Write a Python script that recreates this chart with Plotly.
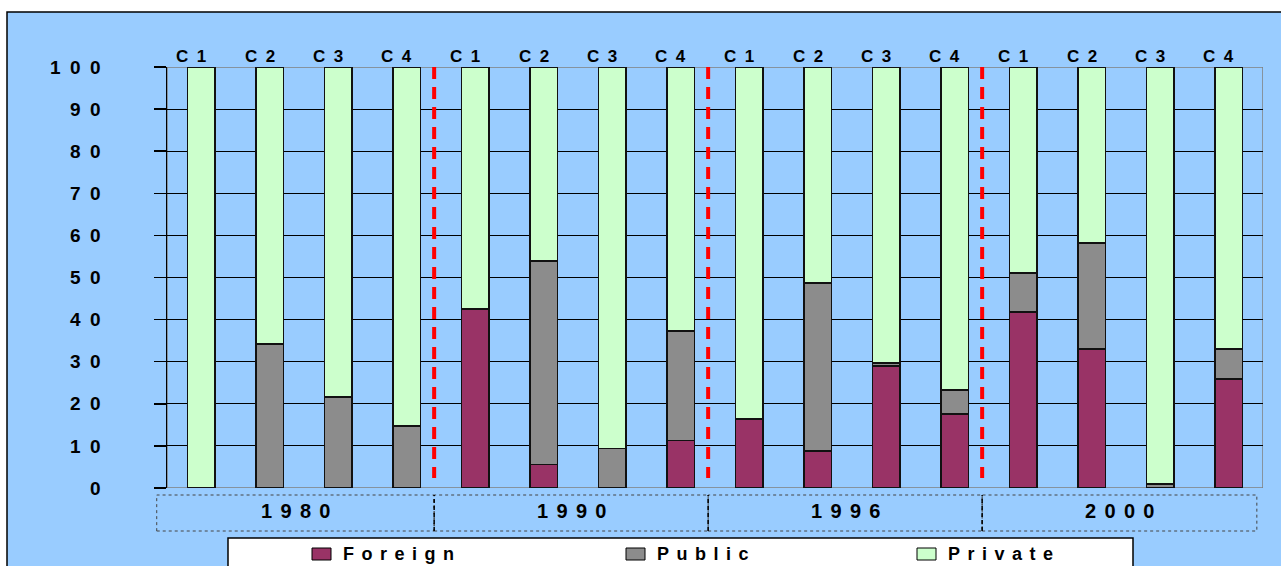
import plotly.graph_objects as go

# ---------------- data ----------------
years = ["1980", "1990", "1996", "2000"]
countries = ["C1", "C2", "C3", "C4"]

foreign = [0, 0, 0, 0,
           42.6, 5.6, 0, 11.3,
           16.3, 8.7, 28.9, 17.5,
           41.8, 33.1, 0, 25.8]
public = [0, 34.2, 21.7, 14.8,
          0, 48.4, 9.4, 26.0,
          0, 40.0, 0.8, 5.7,
          9.2, 25.1, 1.0, 7.3]
private = [100, 65.8, 78.3, 85.2,
           57.4, 46.0, 90.6, 62.7,
           83.7, 51.3, 70.3, 76.8,
           49.0, 41.8, 99.0, 66.9]

series_names = ["Foreign", "Public", "Private"]
series_colors = ["#993366", "#8C8C8C", "#CCFFCC"]
y_ticks = [0, 10, 20, 30, 40, 50, 60, 70, 80, 90, 100]

# ---------------- helpers ----------------
FONT = "Liberation Sans, Arial, sans-serif"
W, H = 1281, 566
ML, MR, MT, MB = 167, 18, 67, 78
PW, PH = W - ML - MR, H - MT - MB


def spaced(s, sep):
    return sep.join(s)


def px_x(px):
    return (px - ML) / PW


def px_y(py):
    return (H - MB - py) / PH


n_groups = len(years)
n_per = len(countries)
n = n_groups * n_per
xpos = list(range(n))
cat_labels = [c for _ in years for c in countries]
x_lo, x_hi = -0.5, n - 0.5


def dx_to_paper(x):
    return (x - x_lo) / (x_hi - x_lo)


fig = go.Figure()
for name, vals, col in zip(series_names, [foreign, public, private], series_colors):
    fig.add_trace(go.Bar(
        x=xpos,
        y=[v if v else None for v in vals],
        name=name,
        marker=dict(color=col, line=dict(color="#111111", width=1.8)),
        width=0.4,
        hoverinfo="skip",
        showlegend=False,
    ))

shapes = []
# chart area background with border
shapes.append(dict(type="rect", xref="paper", yref="paper",
                   x0=px_x(7), x1=px_x(1310), y0=px_y(620), y1=px_y(12),
                   fillcolor="#99CCFF", line=dict(color="#000000", width=1.5),
                   layer="below"))
# plot frame (gray)
shapes.append(dict(type="rect", xref="x", yref="y",
                   x0=x_lo, x1=x_hi, y0=0, y1=100,
                   line=dict(color="#808080", width=1.5), layer="below"))

# group boundaries (data units)
seps = [n_per * (g + 1) - 0.5 - 0.1 for g in range(n_groups - 1)]
edges = [x_lo - 0.15] + seps + [x_hi - 0.09]

# red dashed separators
for s in seps:
    shapes.append(dict(type="line", xref="x", yref="y",
                       x0=s, x1=s, y0=100, y1=2.4,
                       line=dict(color="#FF0000", width=4, dash="12px,8px")))

# year boxes
box_top, box_bot = px_y(495), px_y(531)
for g in range(n_groups):
    shapes.append(dict(type="rect", xref="paper", yref="paper",
                       x0=dx_to_paper(edges[g]), x1=dx_to_paper(edges[g + 1]),
                       y0=box_bot, y1=box_top,
                       line=dict(color="#444444", width=1, dash="dot"),
                       layer="below"))
for s in seps:
    shapes.append(dict(type="line", xref="paper", yref="paper",
                       x0=dx_to_paper(s), x1=dx_to_paper(s), y0=box_bot, y1=box_top,
                       line=dict(color="#000000", width=1.5, dash="4px,3px"),
                       layer="below"))

# legend box
shapes.append(dict(type="rect", xref="paper", yref="paper",
                   x0=px_x(228), x1=px_x(1133), y0=px_y(620), y1=px_y(538),
                   fillcolor="#FFFFFF", line=dict(color="#000000", width=1.5),
                   layer="below"))

annotations = []
# legend entries (swatch + text)
legend_left_px = [312, 626, 917]
for name, col, lx in zip(series_names, series_colors, legend_left_px):
    shapes.append(dict(type="rect", xref="paper", yref="paper",
                       x0=px_x(lx), x1=px_x(lx + 19), y0=px_y(560), y1=px_y(548),
                       fillcolor=col, line=dict(color="#000000", width=1),
                       layer="below"))
    annotations.append(dict(x=px_x(lx + 29), y=px_y(554), xref="paper", yref="paper",
                            text=spaced(name, "\u2005\u2006"), showarrow=False,
                            xanchor="left", yanchor="middle",
                            font=dict(family=FONT, size=18, color="#000000", weight="bold")))

for i, lab in enumerate(cat_labels):
    annotations.append(dict(x=i, y=100, xref="x", yref="y",
                            text=spaced(lab, "\u2002"), showarrow=False,
                            yanchor="bottom", xshift=-10, yshift=-1,
                            font=dict(family=FONT, size=17, color="#000000", weight="bold")))
for g, yr in enumerate(years):
    cx = (dx_to_paper(edges[g]) + dx_to_paper(edges[g + 1])) / 2
    annotations.append(dict(x=cx, y=px_y(511), xref="paper", yref="paper",
                            text=spaced(yr, "\u2005\u2006"), showarrow=False,
                            xanchor="center", yanchor="middle",
                            font=dict(family=FONT, size=20, color="#000000", weight="bold")))

fig.update_layout(
    width=W, height=H, autosize=False,
    margin=dict(l=ML, r=MR, t=MT, b=MB, pad=0, autoexpand=False),
    paper_bgcolor="#FFFFFF",
    plot_bgcolor="#99CCFF",
    barmode="stack",
    bargap=0,
    shapes=shapes,
    annotations=annotations,
    font=dict(family=FONT, color="#000000"),
    showlegend=False,
    xaxis=dict(range=[x_lo, x_hi], showgrid=False, zeroline=False,
               showticklabels=False, showline=False, ticks="", fixedrange=True),
    yaxis=dict(range=[0, 100], tickvals=y_ticks,
               ticktext=[spaced(str(t), "\u2002") for t in y_ticks],
               ticks="outside", ticklen=12, tickcolor="#000000", tickwidth=1.5,
               showline=True, linecolor="#000000", linewidth=1.5,
               showgrid=True, gridcolor="#000000", gridwidth=1,
               zeroline=False, ticklabelstandoff=49, automargin=False,
               tickfont=dict(family=FONT, size=19, color="#000000", weight="bold"),
               fixedrange=True),
)

fig.write_html(
    "out.html",
    config={"displayModeBar": False, "staticPlot": True},
    post_script="document.body.style.margin='0';document.body.style.overflow='hidden';",
)
